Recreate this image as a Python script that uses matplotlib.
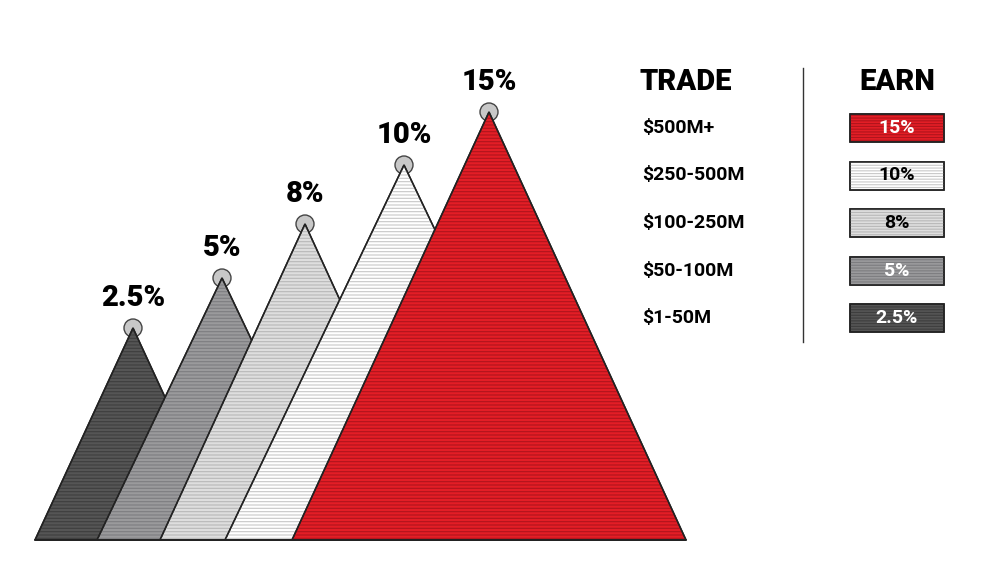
import matplotlib
matplotlib.use("Agg")
import matplotlib.pyplot as plt
from matplotlib.patches import Polygon, Circle, Rectangle

# data
earn_labels = ["2.5%", "5%", "8%", "10%", "15%"]
earn_values = [2.5, 5, 8, 10, 15]
trade_tiers = ["$1-50M", "$50-100M", "$100-250M", "$250-500M", "$500M+"]

# geometry (pixel layout)
apex_x = [133, 222, 305, 404, 489]
apex_y = [328, 278, 224, 165, 112]
base_left = [35, 97, 160, 225, 292]
base_y = 540
fills = ["#555555", "#9a9a9c", "#dedede", "#ffffff", "#e31e26"]
hatchc = ["#3e3e3e", "#7d7d80", "#b8b8b8", "#c8c8c8", "#b0141c"]
textc = ["white", "white", "black", "black", "white"]

plt.rcParams['hatch.linewidth'] = 0.8
fig = plt.figure(figsize=(10, 5.75), dpi=100)
ax = fig.add_axes([0, 0, 1, 1])
ax.set_xlim(0, 1000); ax.set_ylim(575, 0); ax.axis("off")

font = dict(family=["Roboto", "DejaVu Sans"], fontweight="black")
for i, v in enumerate(earn_values):
    ax_, ay, bl = apex_x[i], apex_y[i], base_left[i]
    br = 2 * ax_ - bl
    z = 2 + i * 2
    ax.add_patch(Circle((ax_, ay), 9, facecolor="#c8c8c8", edgecolor="#444", lw=1, zorder=z))
    ax.add_patch(Polygon([(bl, base_y), (ax_, ay), (br, base_y)], closed=True,
                         facecolor=fills[i], edgecolor="#222", lw=1.1, zorder=z + 1))
    ax.add_patch(Polygon([(bl, base_y), (ax_, ay), (br, base_y)], closed=True,
                         facecolor="none", edgecolor=hatchc[i], hatch="-----", lw=0, zorder=z + 1))
    ax.add_patch(Polygon([(bl, base_y), (ax_, ay), (br, base_y)], closed=True,
                         facecolor="none", edgecolor="#222", lw=1.1, zorder=z + 1))
    ax.text(ax_, ay - 22, earn_labels[i], ha="center", va="baseline", fontsize=21, color="black", **font)

ax.plot([35, 686], [base_y, base_y], color="#222", lw=1.2, zorder=20)

ax.text(686, 90, "TRADE", ha="center", va="baseline", fontsize=21, **font)
ax.text(897, 90, "EARN", ha="center", va="baseline", fontsize=21, **font)
ax.plot([803, 803], [68, 342], color="#333", lw=1)
for j, i in enumerate(range(4, -1, -1)):
    y = 128 + j * 47.5
    ax.text(642, y, trade_tiers[i], ha="left", va="center", fontsize=14,
            family=["Roboto", "DejaVu Sans"], fontweight="bold")
    ax.add_patch(Rectangle((850, y - 14), 94, 28, facecolor=fills[i], edgecolor="#222", lw=1.1))
    ax.add_patch(Rectangle((850, y - 14), 94, 28, facecolor="none", edgecolor=hatchc[i], hatch="------", lw=0))
    ax.add_patch(Rectangle((850, y - 14), 94, 28, facecolor="none", edgecolor="#222", lw=1.1))
    ax.text(897, y, earn_labels[i], ha="center", va="center", fontsize=14, color=textc[i],
            family=["Roboto", "DejaVu Sans"], fontweight="bold")

fig.savefig("out.png", dpi=100, facecolor="white")
